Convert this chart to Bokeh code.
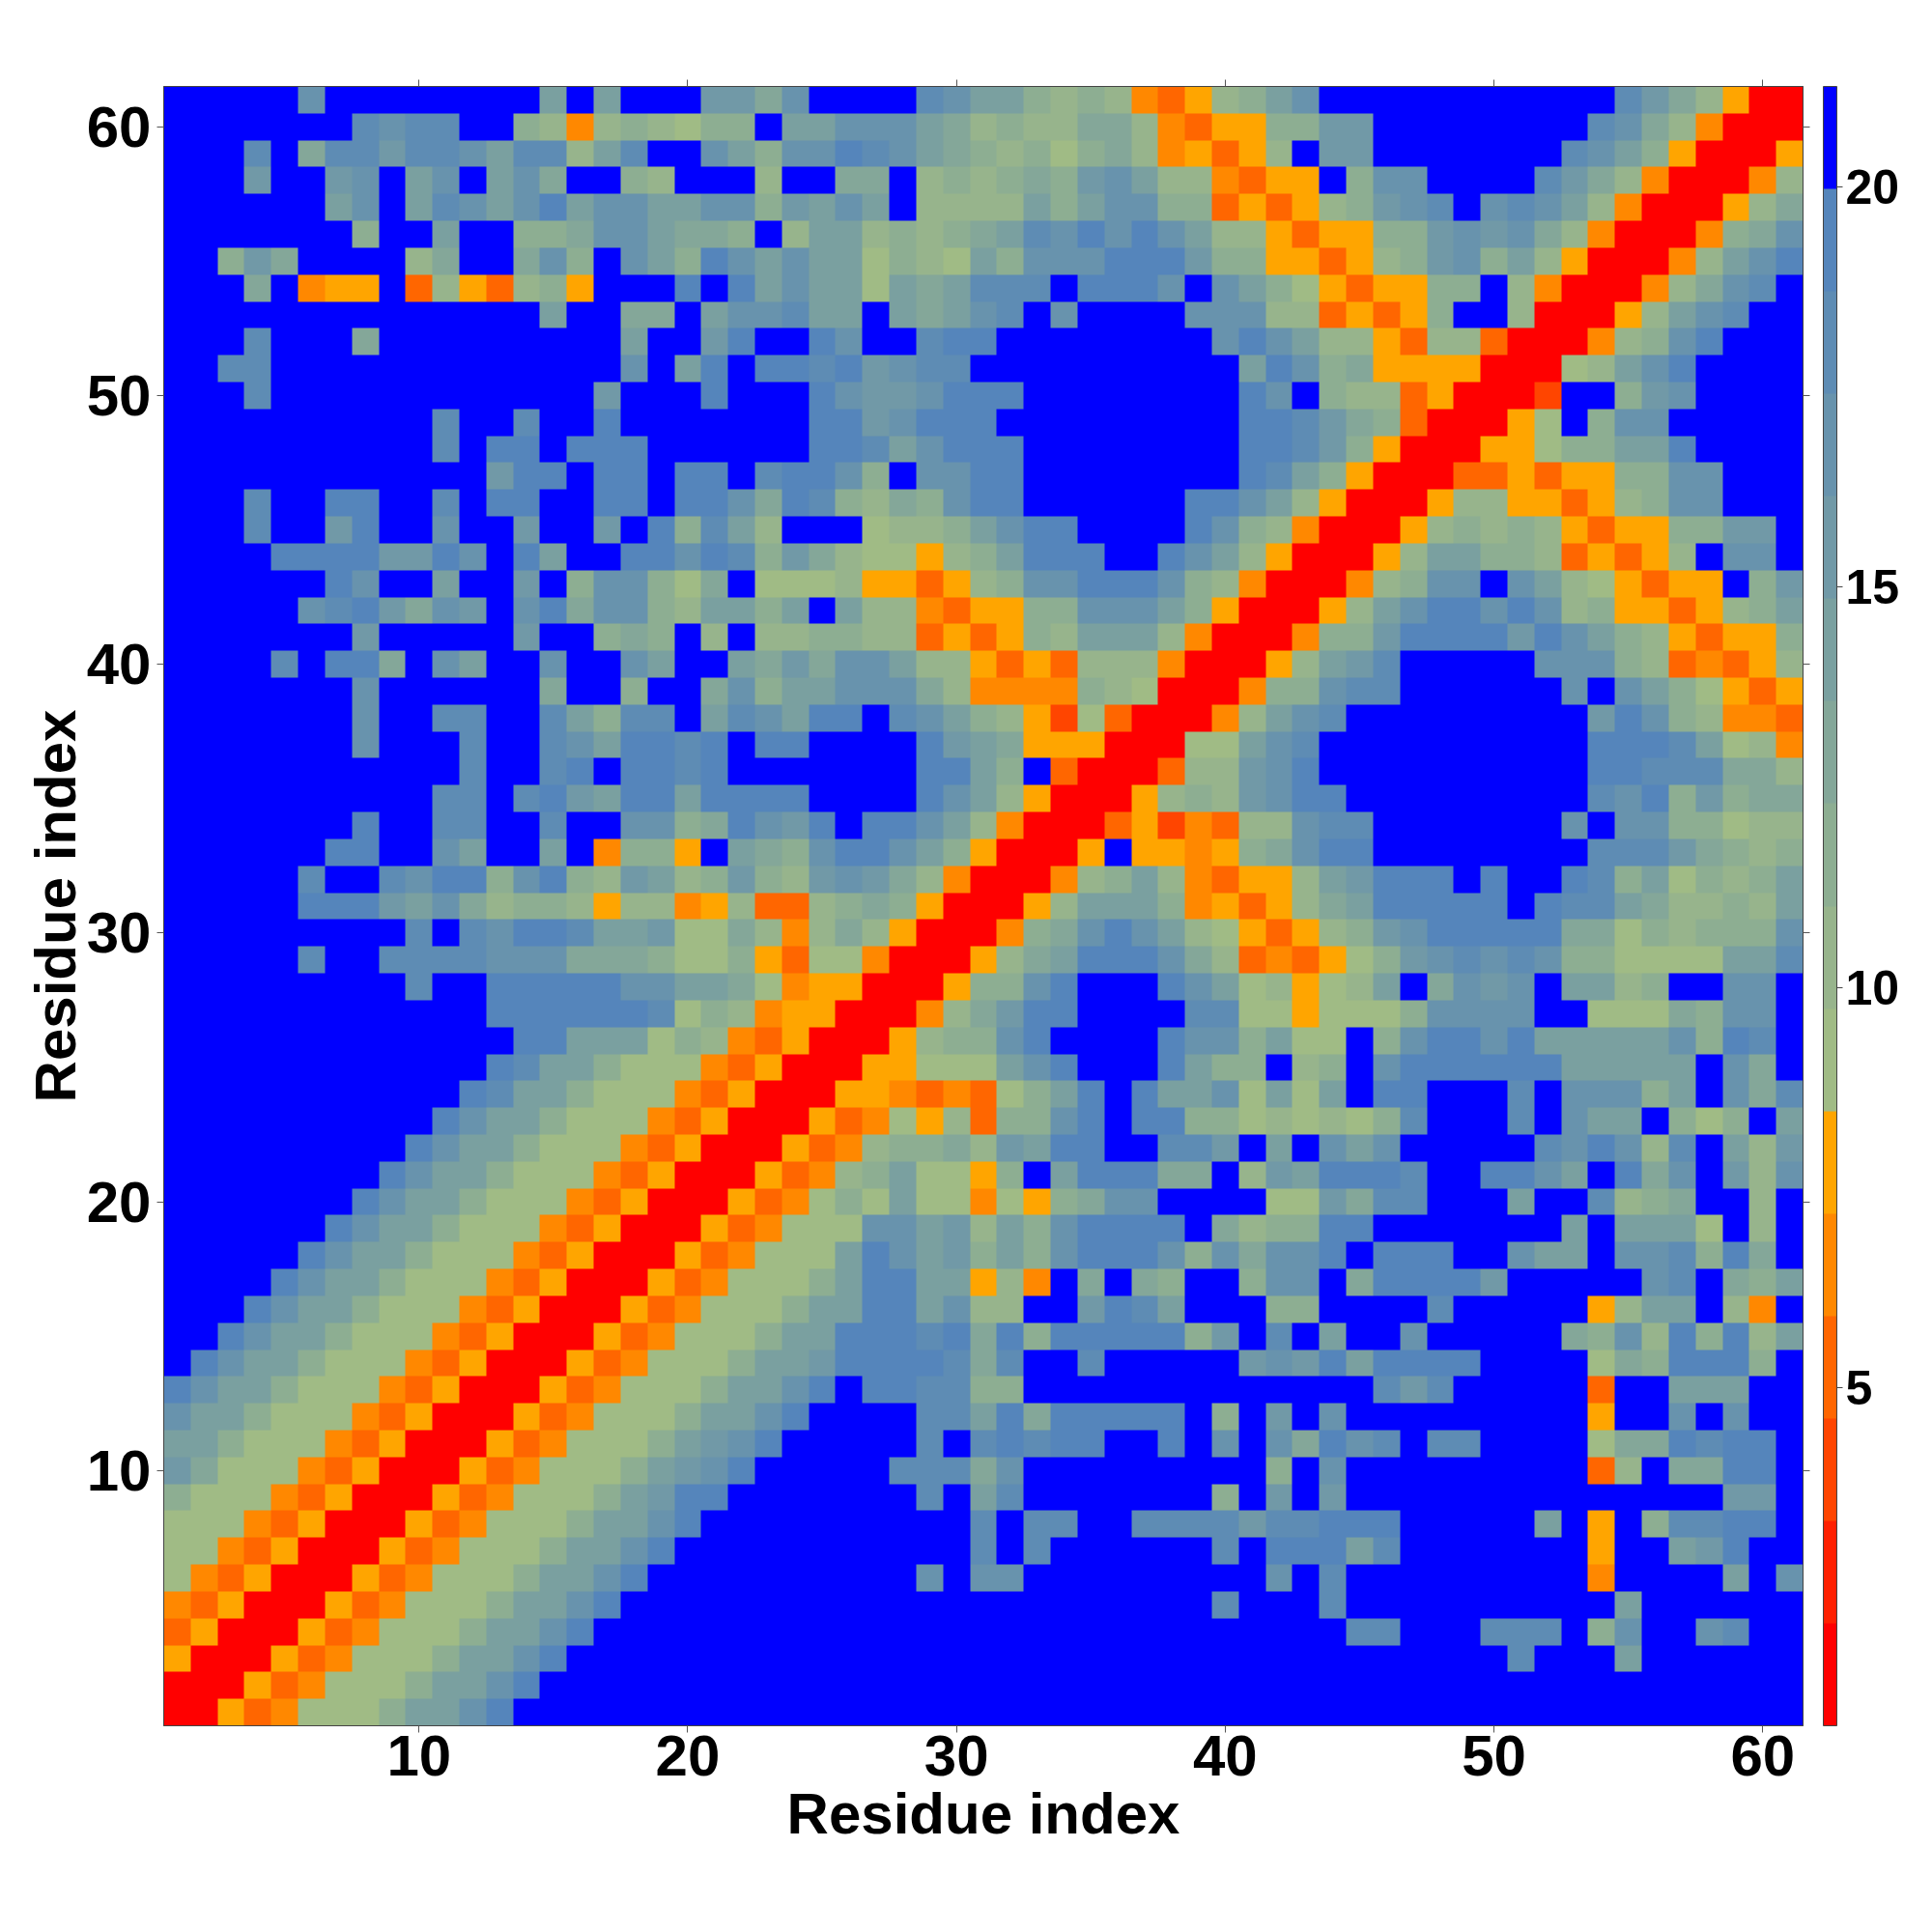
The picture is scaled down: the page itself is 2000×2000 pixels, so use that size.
from bokeh.embed import file_html
from bokeh.resources import INLINE
from bokeh.plotting import figure
from bokeh.models import LinearAxis, FixedTicker, LinearColorMapper, ColorBar
import numpy as np

# One string per residue row (top = 61, bottom = 1); each hex digit is the colour-bar band of a cell.
band_rows = [
"FFFFFCFFFF FFFFAFAFFF BB9CFFFFDC AA87874357 8ACFFFFFFF FFFFDB9750 0",
"FFFFFFFDCD DFF8747876 88FAACCCA9 7877997435 588BBFFFFF FFFDC97400 0",
"FFFDF9DDBD DCADD7ADFF CA8CCEDCA9 8786897453 57FBBFFFFF FFDCA85000 5",
"FFFBFFBCFA CFAC9FF87F FF7FF99F78 7898BCA774 355F8CCFFF FDB9740004 7",
"FFFFFFACFA DCACEACCAA CC8BACAF77 77A8ACC883 53578BCDFC DCA7400057 9",
"FFFFFFF8FF AFF889CCA9 98F7AA7878 9ADCECECA7 7535588BCB C974000489 C",
"FF8B9FFFF7 9FF9C8FCA8 ECACAA6876 A8CCCEEEB8 8553578BC8 A7500047AC E",
"FFF9F455F3 753785FFFE FEACAA6A9A DDDFEEECFC A86535588F 74000479CD F",
"FFFFFFFFFF FFFFAFF99F ACCDAAFA9A CDFCFFFFCC C7735358FF 700057ACDF F",
"FFFDFFF9FF FFFFFFFAFF BEFFECFFDE EFFFFFFFFC ECA7753773 000478CEFF F",
"FFDDFFFFFF FFFFFFFCFA EFEEDEBCDD FFFFFFFFFF AEC8955550 0067ACEFFF F",
"FFFDFFFFFF FFFFFFBFFF EFFFECBBCE EEFFFFFFFF ECF8773500 02FF8BCFFF F",
"FFFFFFFFFF DFFDFFEFFF FFFFEEBCEE EFFFFFFFFF EEDB983000 56F8CCFFFF F",
"FFFFFFFFFF DFEEFEEEFF FFFFEEDACE EEFFFFFFFF EEDB850005 5688AAEFFF F",
"FFFFFFFFFF FFBEEFEEFE EFDEEC8FCC EEFFFFFFFF EDA8500033 535588CCFF F",
"FFFDFFEEFF DFEEFFEEFE EC9ED8798C EEFFFFFFEE CA75000577 553578CCFF F",
"FFFDFFBEFF CFFBFFBFE8 DA7FFF6778 ACEEFFFFEC 8740005787 87535588BB F",
"FFFFEEEEBB ECFEAFFEEC ED8B976657 8AEEEFFECA 7500057AA8 8735357FCC F",
"FFFFFFECFF AFFBF8CC86 9F66675535 78CCEEEC87 4000478CCF CA765355F8 B",
"FFFFFCDEB9 CBFCE9CC87 AA8AFA7743 5588CCCA85 00057ACEEC EC78553578 A",
"FFFFFFFBFF FFFBFF898F 7F77887735 3587AAA740 00488BEEEE BECA875355 8",
"FFFFDFEE9F CAFFCFFCAF FA9B9CCA77 5353777400 057ABDFFFF FCCC873435 7",
"FFFFFFFCFF FFFF9FF8FF 9C8AACCC97 4444876000 488CDDFFFF FFCFCA8653 5",
"FFFFFFFCFF DDFFDA8DDF ADCAEEFDCA 8752630004 7ACDFFFFFF FFFBEC8744 3",
"FFFFFFFCFF FDFFDCAEED EFEEFFFFEB A955500066 ACDFFFFFFF FFFEEEDA67 4",
"FFFFFFFFFF FDFFDEFEED EFFFFFFFEE A8F3000377 BCEFFFFFFF FFFEEDDD99 7",
"FFFFFFFFFF DDFDEBAEEA EEEEFFFFEC A750005787 BCEEFFFFFF FFFDCE8B89 9",
"FFFFFFFEFF DDFFDFFCC8 9ECBEFEECA 7400035243 77CDDFFFFF FFCFCC8867 7",
"FFFFFFEEFF CAFFAF4885 FA98CEECA8 50005F5545 89CEEFFFFF FFFDDDB987 8",
"FFFFFDFFDC EE8CE87BA7 8B87BCB974 000478A743 557ABEEEFE FFED8A6878 A",
"FFFFFEEEBA C978875774 5733789850 0057AAA845 3579AEEEEE FEDDA97787 A",
"FFFFFFFFFD FDCEEDAAB6 6974797500 0489CECA76 53578BCEEE EE99687888 C",
"FFFFFDFFDD DDCCC99986 6853664000 579AEEEC97 343568BCDC DC886666AA D",
"FFFFFFFFFD FFEEEEECCA A964550005 88CEFFFECA 67567AF9CB CFAA78FFCC F",
"FFFFFFFFFF FFEEEEEED6 8745500047 9BEEFFFFDD 6656668CCC CFF66698CC F",
"FFFFFFFFFF FFFEEAAA68 7435000578 8CEFFFFECC 8A66F8CEEC EAAAAAC8ED F",
"FFFFFFFFFF FFEDAA8666 4350005566 6ACEFFFEA8 8F78FCEEEE EEAAAAAFC9 F",
"FFFFFFFFFF FEDAA86664 3500055434 368AEFEAAC 6A6AFEEFFF DFCCC8AFC9 D",
"FFFFFFFFFF ECAA866643 5000534657 388CEFEE88 676768DFFF DFCAAF868F A",
"FFFFFFFFFE CAA8666435 0005347889 7BAEEFFDDB FAFCACFFFF FDCEC7DFA7 B",
"FFFFFFFFEC AA86664350 0053478A66 58FAEEE99F 7BAEEEDFFE ECAFE9CFB7 C",
"FFFFFFFECA A866643500 0534686A66 46589CCFFF F66B9DDFFF AFFD789FF7 F",
"FFFFFFECAA 8666435000 534666CCAB 7A8CEEEEF9 788EEFFFFF FFAFAAA6F7 F",
"FFFFFECAA8 6664350005 34666AECAB 8A8CEEEC8C 9CCEFEEEFF CAAFCCD8E9 F",
"FFFFECAA86 6643500053 46668AEEAA 574F9F98FF 8CCF9EEEEB FFFFFCDF98 A",
"FFFECAA866 6435000534 6668AAEEAC 77FFBEDAFF F88FFFFDFF FFF57AAF74 F",
"FFECAA8666 4350005346 668AAEEEDE 9E8EEEEE8B FDFAFFCFFF FF98C7E8E7 A",
"FECAA86664 3500053466 68AABEEEED 9DFFDFFFFF BCBEAEEEEF FFF698EEE8 F",
"ECAA866643 5000534666 8AACEFEEDD 88FFFFFFFF FFFFFDBDFF FFF3FFAAAF F",
"CAA8666435 0005346668 AACEFFFFDD AE9EEEEEF8 FBFCFFFFFF FFF5FFCFCF F",
"AA86664350 005346668A BCEFFFFFDF DEDEEFFEFC FC9ECDFDDF FFF699EDEE F",
"B966643500 05346668AB CEFFFFFDDD 9CFFFFFFFF F8FCFFFFFF FFF37F99EE F",
"8666435000 5346668ABE EFFFFFFFDF ADFFFFFFF8 FBFBFFFFFF FFFFFFFFBB F",
"6664350005 346668AACE FFFFFFFFFF DFDDFFDDDD BDDEEEFFFF FAF5F8DDEE F",
"6643500053 46668AACEF FFFFFFFFFF DFDFFFFFFD FEEEADFFFF FFF5FFABEF F",
"6435000534 6668AACEFF FFFFFFFFCF CCFFFFFFFF FCFDFFFFFF FFF4FFFFAF C",
"4350005346 668AACEFFF FFFFFFFFFF FFFFFFFFFD FFFDFFFFFF FFFFAFFFFF F",
"3500053466 68AACEFFFF FFFFFFFFFF FFFFFFFFFF FFFFDDFFFD DDF8CFFCDF F",
"5000534666 8AACEFFFFF FFFFFFFFFF FFFFFFFFFF FFFFFFFFFF DFFFAFFFFF F",
"0005346668 AACEFFFFFF FFFFFFFFFF FFFFFFFFFF FFFFFFFFFF FFFFFFFFFF F",
"005346668A ACEFFFFFFF FFFFFFFFFF FFFFFFFFFF FFFFFFFFFF FFFFFFFFFF F",
]

palette = ["#ff0000", "#ff2000", "#ff4500", "#ff6600", "#ff8800", "#ffa500",
           "#a0bb85", "#97b48c", "#8dae92", "#84a799", "#7aa0a0", "#7199a7",
           "#6893ad", "#5e8cb4", "#5585bb", "#0000ff"]
value_low = 0.77
value_high = 21.26
residue_ticks = [10, 20, 30, 40, 50, 60]
bar_ticks = [5, 10, 15, 20]
axis_title = "Residue index"

rows = [r.replace(" ", "").ljust(61, "F")[:61] for r in band_rows]
bands = np.array([[int(c, 16) for c in r] for r in rows[::-1]], dtype=float)
band_width = (value_high - value_low) / len(palette)
distance = value_low + (bands + 0.5) * band_width

FONT = "Liberation Sans"
mapper = LinearColorMapper(palette=palette, low=value_low, high=value_high)

p = figure(frame_width=1697, frame_height=1697, x_range=(0.5, 61.5), y_range=(0.5, 61.5),
           output_backend="svg", toolbar_location=None, tools="",
           min_border_left=169, min_border_top=89, min_border_bottom=180, min_border_right=100,
           x_axis_label=axis_title, y_axis_label=axis_title, background_fill_color="white")
p.image(image=[distance], x=0.5, y=0.5, dw=61, dh=61, color_mapper=mapper)
p.grid.visible = False
p.outline_line_color = "#444444"
p.outline_line_width = 1


def style(ax):
    ax.ticker = FixedTicker(ticks=residue_ticks)
    ax.major_tick_in = 0
    ax.major_tick_out = 7
    ax.minor_tick_line_color = None
    ax.major_tick_line_color = "#555555"
    ax.major_tick_line_width = 1
    ax.axis_line_color = "#444444"
    ax.axis_line_width = 1


for ax in (p.xaxis[0], p.yaxis[0]):
    style(ax)
    ax.major_label_text_font = FONT
    ax.major_label_text_font_style = "bold"
    ax.major_label_text_font_size = "60px"
    ax.major_label_text_color = "black"
    ax.axis_label_text_font = FONT
    ax.axis_label_text_font_style = "bold"
    ax.axis_label_text_font_size = "60px"
    ax.axis_label_text_color = "black"
p.xaxis[0].major_label_standoff = 3
p.xaxis[0].axis_label_standoff = 3
p.yaxis[0].major_label_standoff = 6
p.yaxis[0].axis_label_standoff = -4
p.yaxis[0].major_label_orientation = "horizontal"

blank = {t: "" for t in residue_ticks}
top = LinearAxis(major_label_overrides=blank)
style(top)
p.add_layout(top, "above")
right = LinearAxis(major_label_overrides=blank)
style(right)
p.add_layout(right, "right")

cb = ColorBar(color_mapper=mapper, ticker=FixedTicker(ticks=bar_ticks), width=14, height=1697,
              padding=0, margin=30, location=(14, 0), major_tick_in=0, major_tick_out=6,
              major_tick_line_color="#444444", bar_line_color="#444444", bar_line_width=1,
              minor_tick_line_color=None, major_label_text_font=FONT,
              major_label_text_font_style="bold", major_label_text_font_size="50px",
              major_label_text_color="black", label_standoff=3, background_fill_color=None,
              border_line_color=None)
p.add_layout(cb, "right")

open("out.html", "w").write(file_html(p, INLINE))
